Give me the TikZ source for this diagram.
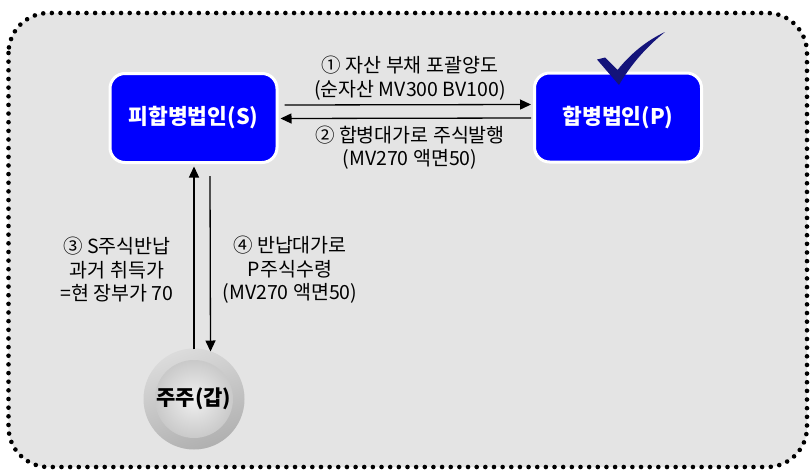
\documentclass[tikz,border=0pt]{standalone}
\usepackage{fontspec}
\setmainfont{Noto Sans CJK KR}
\usetikzlibrary{arrows.meta,calc,shapes.geometric}
\definecolor{bggray}{HTML}{E4E4E4}
\definecolor{boxblue}{HTML}{0000FF}
\definecolor{checknavy}{HTML}{14147A}
\tikzset{
  corpbox/.style={draw=white, line width=3pt, fill=boxblue, rounded corners=15pt,
    minimum width=167pt, minimum height=89pt, text=white, font=\bfseries\fontsize{21.5}{24}\selectfont},
  lbl/.style={align=center, font=\fontsize{19.5}{23.5}\selectfont, inner sep=0pt},
  flow/.style={line width=1.3pt, -{Triangle[length=11pt,width=10pt]}},
}
\begin{document}
\begin{tikzpicture}[x=1pt,y=-1pt]
\useasboundingbox (0,0) rectangle (810,474);
\draw[fill=bggray, line width=4.6pt, line cap=round, dash pattern=on 0pt off 8.65pt, rounded corners=40pt]
  (8.5,13) rectangle (807,467);
\node[corpbox] (S) at (193.5,118) {피합병법인(S)};
\node[corpbox] (P) at (618,117.5) {합병법인(P)};
\node[circle, minimum size=101pt, inner sep=0pt, shading=axis, top color=gray!28, bottom color=gray!62, shading angle=20] (G) at (194,399) {};
\shade[inner color=gray!12, outer color=gray!42] (G.center) circle (39pt);
\node[font=\bfseries\fontsize{21}{24}\selectfont, text=black] (Gt) at (G.center) {주주(갑)};
% check mark
\fill[checknavy] (597,59.5) -- (605,57.5) -- (617.5,70) .. controls (632,52) and (648,40) .. (665,32)
  .. controls (645,48) and (630,66) .. (619,85) -- cycle;
% horizontal arrows
\coordinate (a1s) at ($(S.east)+(6,-13)$);
\coordinate (a1e) at ($(P.west)+(-2,-13)$);
\draw[flow] (a1s) -- (a1e);
\coordinate (a2s) at ($(P.west)+(-2,0.5)$);
\coordinate (a2e) at ($(S.east)+(2,0.5)$);
\draw[flow] (a2s) -- (a2e);
% vertical arrows
\coordinate (v1s) at ($(G.north)+(0,1)$);
\coordinate (v1e) at ($(S.south)+(0.5,2.5)$);
\draw[flow] (v1s) -- (v1e);
\coordinate (v2s) at ($(S.south)+(16.5,12)$);
\coordinate (v2e) at ($(G.center)+(16.5,-47.5)$);
\draw[flow] (v2s) -- (v2e);
% labels
\node[lbl] (L1) at (410,78) {① 자산 부채 포괄양도\\(순자산 MV300 BV100)};
\node[lbl] (L2) at (410,147.5) {② 합병대가로 주식발행\\(MV270 액면50)};
\node[lbl] (L3) at (117,270) {③ S주식반납\\과거 취득가\\=현 장부가 70};
\node[lbl] (L4) at (290,270) {④ 반납대가로\\P주식수령\\(MV270 액면50)};
\end{tikzpicture}
\end{document}
